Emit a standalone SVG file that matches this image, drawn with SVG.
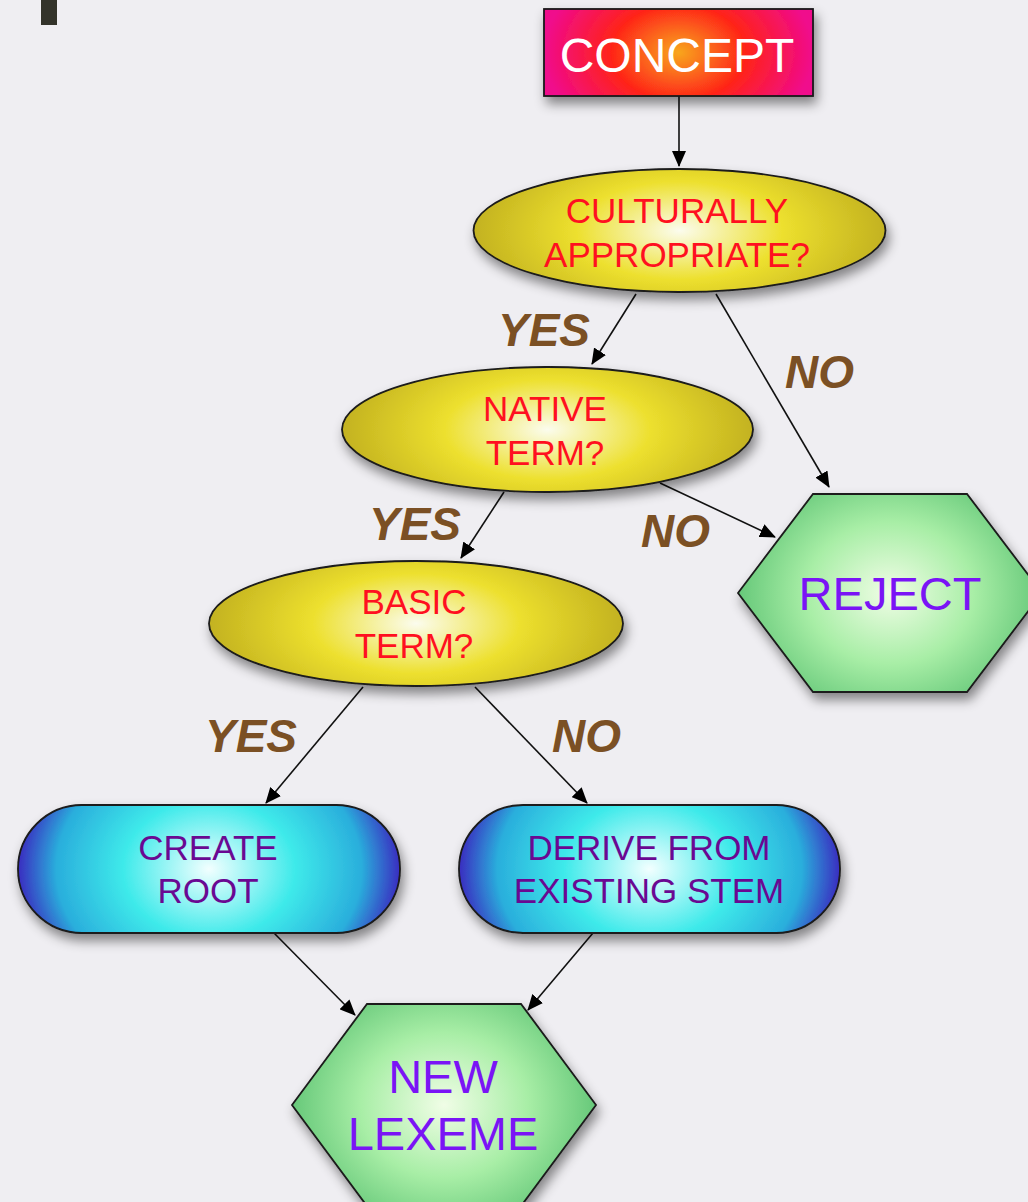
<svg xmlns="http://www.w3.org/2000/svg" width="1028" height="1202" viewBox="0 0 1028 1202">
<defs>
<style>
.edge{fill:none;stroke:#111;stroke-width:1.6}
.q{font-family:"Liberation Sans",Arial,sans-serif;font-size:35px;fill:#ff1020;text-anchor:middle}
.act{font-family:"Liberation Sans",Arial,sans-serif;font-size:35px;fill:#6a0892;text-anchor:middle}
.term{font-family:"Liberation Sans",Arial,sans-serif;font-size:47px;fill:#7a14f5;text-anchor:middle}
.lbl{font-family:"Liberation Sans",Arial,sans-serif;font-size:46px;font-weight:bold;font-style:italic;fill:#7b5024}
.shape{stroke:#1a1a1a;stroke-width:1.8}
</style>
<filter id="sh" x="-20%" y="-20%" width="140%" height="150%">
<feDropShadow dx="3" dy="7" stdDeviation="6" flood-color="#000" flood-opacity="0.45"/>
</filter>
<radialGradient id="gConcept" cx="0.5" cy="0.5" r="0.5" gradientTransform="translate(0.5 0.5) scale(1 2.2) translate(-0.5 -0.5)">
<stop offset="0" stop-color="#f8a61f"/>
<stop offset="0.5" stop-color="#ff2418"/>
<stop offset="1" stop-color="#f00a8c"/>
</radialGradient>
<radialGradient id="gYellow" cx="0.5" cy="0.5" r="0.5" gradientTransform="translate(0.5 0.5) scale(1 1.6) translate(-0.5 -0.5)">
<stop offset="0" stop-color="#fbfcee"/>
<stop offset="0.5" stop-color="#ede02e"/>
<stop offset="1" stop-color="#c3b220"/>
</radialGradient>
<radialGradient id="gGreen" cx="0.5" cy="0.5" r="0.55" gradientTransform="translate(0.5 0.5) scale(1 1.3) translate(-0.5 -0.5)">
<stop offset="0" stop-color="#f0fde6"/>
<stop offset="0.5" stop-color="#a8eea6"/>
<stop offset="1" stop-color="#58c070"/>
</radialGradient>
<radialGradient id="gCyan" cx="0.5" cy="0.5" r="0.5" gradientTransform="translate(0.5 0.5) scale(1 2.4) translate(-0.5 -0.5)">
<stop offset="0" stop-color="#f2ffff"/>
<stop offset="0.45" stop-color="#3eeaea"/>
<stop offset="0.8" stop-color="#2aaedc"/>
<stop offset="1" stop-color="#3a2cc0"/>
</radialGradient>
<marker id="arr" markerUnits="userSpaceOnUse" markerWidth="16" markerHeight="14" viewBox="0 0 16 14" refX="15" refY="7" orient="auto">
<path d="M0,0 L16,7 L0,14 Z" fill="#000"/>
</marker>
</defs>
<rect width="1028" height="1202" fill="#efeef2"/>
<rect x="41" y="0" width="16" height="25" fill="#33332a"/>

<g id="connectors">
<path class="edge" d="M679,96 L679,166" marker-end="url(#arr)"/>
<path class="edge" d="M636,294 L592,364" marker-end="url(#arr)"/>
<path class="edge" d="M716,294 L829,487" marker-end="url(#arr)"/>
<path class="edge" d="M660,483 L775,537" marker-end="url(#arr)"/>
<path class="edge" d="M504,492 L461,558" marker-end="url(#arr)"/>
<path class="edge" d="M363,687 L266,803" marker-end="url(#arr)"/>
<path class="edge" d="M475,687 L587,803" marker-end="url(#arr)"/>
<path class="edge" d="M274,933 L355,1015" marker-end="url(#arr)"/>
<path class="edge" d="M593,933 L528,1010" marker-end="url(#arr)"/>
</g>

<g id="labels">
<text class="lbl" x="498" y="346">YES</text>
<text class="lbl" x="785" y="388">NO</text>
<text class="lbl" x="369" y="540">YES</text>
<text class="lbl" x="641" y="547">NO</text>
<text class="lbl" x="205" y="752">YES</text>
<text class="lbl" x="552" y="752">NO</text>
</g>

<g id="concept">
<rect class="shape" x="544" y="9" width="269" height="87" fill="url(#gConcept)" filter="url(#sh)"/>
<text x="677" y="72" font-family="Liberation Sans, Arial, sans-serif" font-size="48" fill="#fff" text-anchor="middle">CONCEPT</text>
</g>

<g id="culturally">
<ellipse class="shape" cx="679.5" cy="230.5" rx="206" ry="61.5" fill="url(#gYellow)" filter="url(#sh)"/>
<text class="q" x="677" y="223">CULTURALLY</text>
<text class="q" x="677" y="267">APPROPRIATE?</text>
</g>

<g id="native">
<ellipse class="shape" cx="547.5" cy="429.5" rx="205.5" ry="62.5" fill="url(#gYellow)" filter="url(#sh)"/>
<text class="q" x="545" y="421">NATIVE</text>
<text class="q" x="545" y="465">TERM?</text>
</g>

<g id="basic">
<ellipse class="shape" cx="416" cy="623.5" rx="207" ry="62.5" fill="url(#gYellow)" filter="url(#sh)"/>
<text class="q" x="414" y="614">BASIC</text>
<text class="q" x="414" y="658">TERM?</text>
</g>

<g id="reject">
<polygon class="shape" points="738,593 813,494 967,494 1042,593 967,692 813,692" fill="url(#gGreen)" filter="url(#sh)"/>
<text class="term" x="890" y="610">REJECT</text>
</g>

<g id="create-root">
<rect class="shape" x="18" y="805" width="382" height="128" rx="64" ry="64" fill="url(#gCyan)" filter="url(#sh)"/>
<text class="act" x="208" y="860">CREATE</text>
<text class="act" x="208" y="903">ROOT</text>
</g>

<g id="derive">
<rect class="shape" x="459" y="805" width="381" height="128" rx="64" ry="64" fill="url(#gCyan)" filter="url(#sh)"/>
<text class="act" x="649" y="860">DERIVE FROM</text>
<text class="act" x="649" y="903">EXISTING STEM</text>
</g>

<g id="new-lexeme">
<polygon class="shape" points="292,1105 367,1004 521,1004 596,1105 521,1206 367,1206" fill="url(#gGreen)" filter="url(#sh)"/>
<text class="term" x="443" y="1093">NEW</text>
<text class="term" x="443" y="1150">LEXEME</text>
</g>
</svg>
